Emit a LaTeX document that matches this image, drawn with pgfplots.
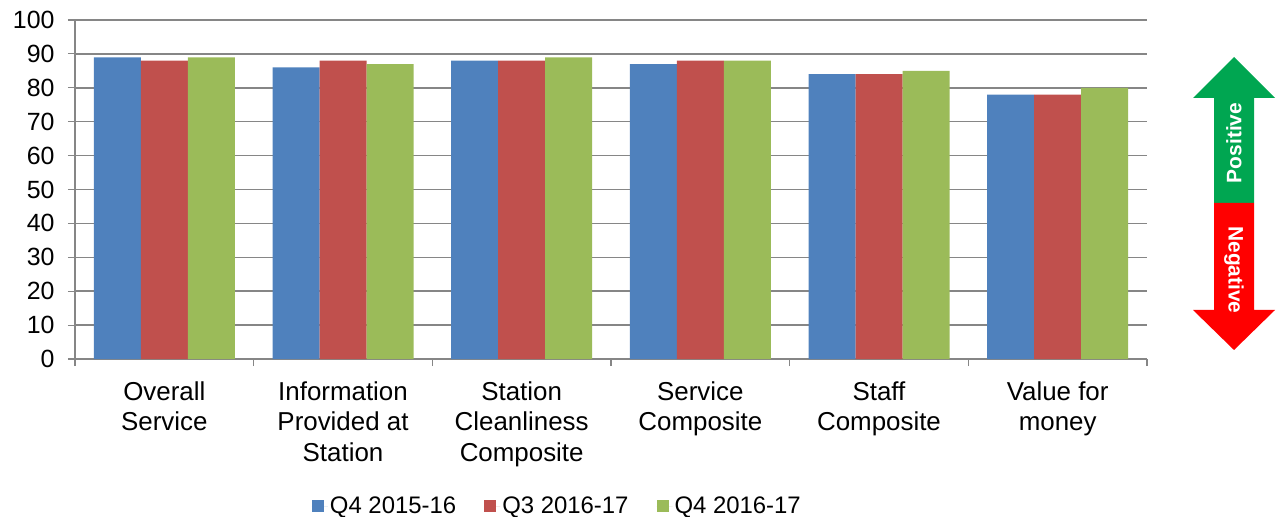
\documentclass[border=0pt]{standalone}
\usepackage{fontspec}
\setmainfont{Liberation Sans}
\usepackage{pgfplots}
\pgfplotsset{compat=1.18}
\definecolor{cblue}{RGB}{79,129,189}
\definecolor{cred}{RGB}{192,80,77}
\definecolor{cgreen}{RGB}{155,187,89}
\definecolor{agreen}{RGB}{0,166,81}
\definecolor{ared}{RGB}{255,0,0}
\definecolor{gridgray}{RGB}{134,134,134}
\begin{document}
\begin{tikzpicture}
\path[use as bounding box] (-75bp,-158bp) rectangle (1204bp,359bp);
\begin{axis}[
  at={(0,0)}, anchor=south west,
  scale only axis, width=1072bp, height=339bp,
  ybar=0pt, bar width=47bp,
  xmin=-0.5, xmax=5.5, ymin=0, ymax=100,
  ytick={0,10,...,100},
  xtick={0,...,5},
  xticklabels={{Overall\\Service},{Information\\Provided at\\Station},{Station\\Cleanliness\\Composite},{Service\\Composite},{Staff\\Composite},{Value for\\money}},
  minor xtick={-0.5,0.5,...,5.5},
  axis x line*=bottom, axis y line*=left,
  axis line style={gridgray, line width=1.2bp, -},
  ymajorgrids,
  grid style={gridgray, line width=1.5bp},
  tick align=outside,
  major tick length=7bp, minor tick length=7bp,
  major x tick style={draw=none},
  tick style={gridgray, line width=1.2bp},
  /pgf/number format/assume math mode=true,
  yticklabel style={font=\fontsize{25}{30}\selectfont, xshift=-10bp},
  xticklabel style={font=\fontsize{26}{30.5}\selectfont, align=center, yshift=-12bp},
  legend columns=3,
  legend style={draw=none, at={(0.45,-0.434)}, anchor=center, font=\fontsize{24}{28}\selectfont,
    /tikz/every even column/.append style={column sep=26bp}},
  legend image code/.code={\fill[#1] (0bp,-6bp) rectangle (12bp,6bp); \path (0bp,0bp) -- (16bp,0bp);},
]
\addplot[fill=cblue, draw=none] coordinates {(0,89) (1,86) (2,88) (3,87) (4,84) (5,78)};
\addplot[fill=cred, draw=none] coordinates {(0,88) (1,88) (2,88) (3,88) (4,84) (5,78)};
\addplot[fill=cgreen, draw=none] coordinates {(0,89) (1,87) (2,89) (3,88) (4,85) (5,80)};
\legend{Q4 2015-16, Q3 2016-17, Q4 2016-17}
\end{axis}
\fill[agreen] (1159bp,302bp) -- (1200bp,261bp) -- (1179bp,261bp) -- (1179bp,156bp) -- (1139bp,156bp) -- (1139bp,261bp) -- (1118bp,261bp) -- cycle;
\fill[ared] (1139bp,156bp) -- (1179bp,156bp) -- (1179bp,49bp) -- (1200bp,49bp) -- (1159bp,9bp) -- (1118bp,49bp) -- (1139bp,49bp) -- cycle;
\node[rotate=90, white, inner sep=0pt, font=\bfseries\fontsize{21}{21}\selectfont] at (1159bp,216bp) {Positive};
\node[rotate=-90, white, inner sep=0pt, font=\bfseries\fontsize{21}{21}\selectfont] at (1159bp,89bp) {Negative};
\end{tikzpicture}
\end{document}
